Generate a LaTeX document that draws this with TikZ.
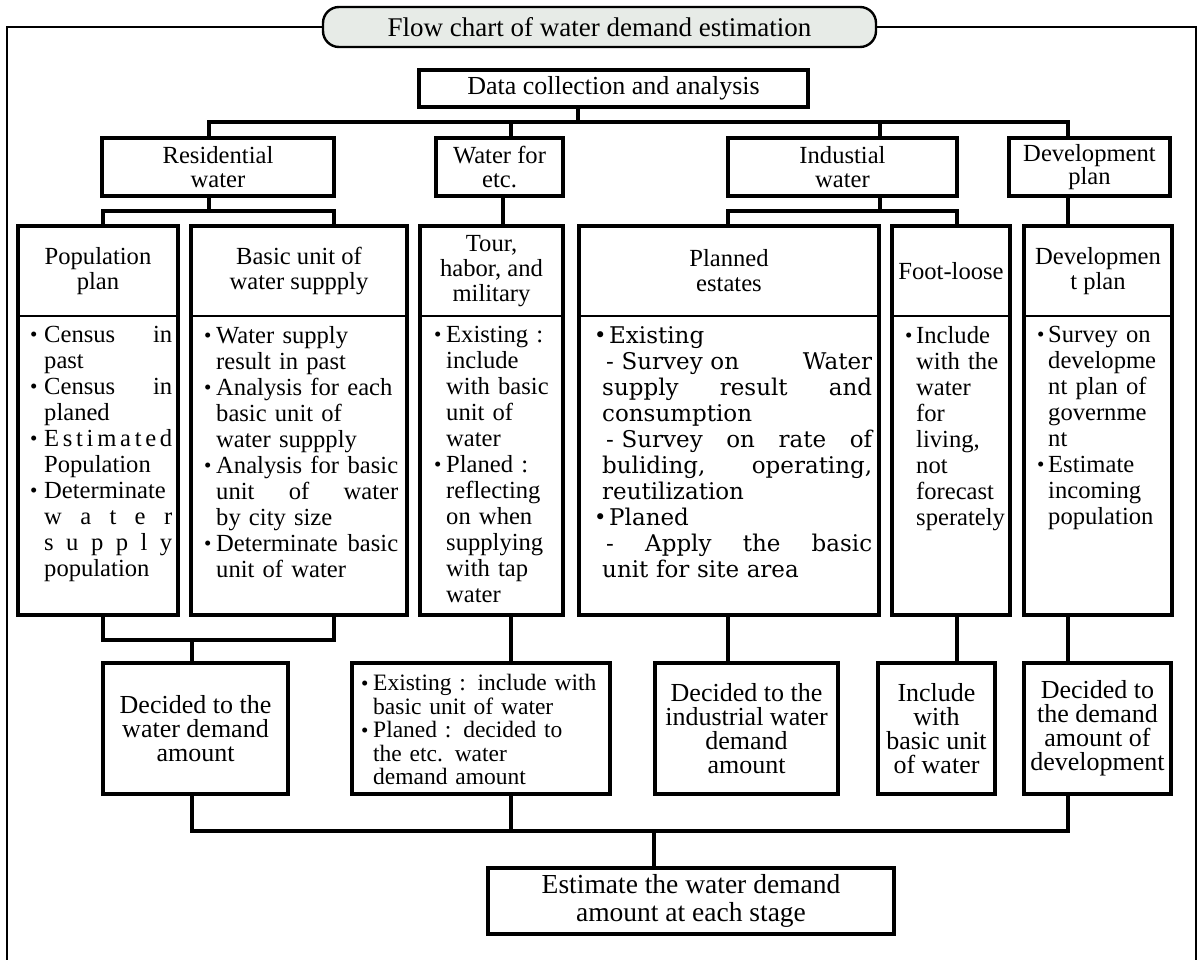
\documentclass[tikz,border=0pt]{standalone}
\usepackage{fontspec}
\setmainfont{Liberation Serif}
\newfontfamily\widefont{DejaVu Serif}
\usepackage{tikz}
\usetikzlibrary{positioning}
\definecolor{titlefill}{RGB}{231,235,231}
\hyphenpenalty=10000
\exhyphenpenalty=10000
\newlength{\bw}
\setlength{\bw}{14pt}
\newcommand{\bul}{\makebox[\bw][l]{\raisebox{0.5pt}{\fontsize{21}{21}\selectfont\textbullet}}}
\newcommand{\ind}{\hspace*{\bw}}
\begin{document}
\begin{tikzpicture}[x=1pt, y=-1pt,
    cbox/.style={draw, line width=3.2pt, inner sep=0pt, align=center, font=\fontsize{26}{24}\selectfont},
    catbox/.style={cbox, minimum height=58pt, font=\fontsize{24.6}{23.5}\selectfont},
    detbox/.style={draw, line width=3.2pt, inner sep=0pt, minimum height=389pt},
    hdtext/.style={align=center, inner sep=0pt, font=\fontsize{24.6}{25}\selectfont},
    bdtext/.style={anchor=north west, align=left, inner sep=0pt, font=\fontsize{24.6}{26}\selectfont},
    endbox/.style={cbox, minimum height=131pt},
    link/.style={line width=3.2pt},
    outline/.style={line width=2.4pt},
    headline/.style={line width=1.4pt}]
    \useasboundingbox (0,0) rectangle (1203,960);

    \node [cbox, line width=2.4pt, fill=titlefill, rounded corners=16pt, minimum width=553pt, minimum height=40pt, font=\fontsize{27}{27}\selectfont] (title) at (599.5,27) {Flow chart of water demand estimation};
    \node [cbox, minimum width=389pt, minimum height=37pt, font=\fontsize{26}{26}\selectfont] (data) at (613.5,88.5) {Data collection and analysis};

    \node [catbox, minimum width=232pt] (res) at (218,167) {Residential\\water};
    \node [catbox, minimum width=127pt] (etc) at (499.5,167) {Water for\\etc.};
    \node [catbox, minimum width=229pt] (ind) at (842.5,167) {Industial\\water};
    \node [catbox, minimum width=161pt] (dev) at (1089.5,167) {Development\\plan};

    \node [detbox, minimum width=160pt] (pop) at (98,420.5) {};
    \node [detbox, minimum width=216pt] (unit) at (299,420.5) {};
    \node [detbox, minimum width=143pt] (tour) at (491.5,420.5) {};
    \node [detbox, minimum width=300pt] (estate) at (729,420.5) {};
    \node [detbox, minimum width=118pt] (loose) at (951,420.5) {};
    \node [detbox, minimum width=148pt] (devplan) at (1098,420.5) {};
    \coordinate (hl) at (0,316);
    \foreach \b in {pop,unit,tour,estate,loose,devplan}
      \draw [headline] (\b.west |- hl) -- (\b.east |- hl);

    \node [hdtext] (poph) at (98,271) {Population\\plan};
    \node [hdtext] (unith) at (299,271) {Basic unit of\\water suppply};
    \node [hdtext] (tourh) at (491.5,271) {Tour,\\habor, and\\military};
    \node [hdtext] (estateh) at (729,271) {Planned\\estates};
    \node [hdtext] (looseh) at (951,271) {Foot-loose};
    \node [hdtext] (devplanh) at (1098,271) {Developmen\\t plan};

    \node [bdtext, text width=142pt] (popt) at (30,326) {\bul Census\hfill in\\
      \ind past\\
      \bul Census\hfill in\\
      \ind planed\\
      \bul E\hfill s\hfill t\hfill i\hfill m\hfill a\hfill t\hfill e\hfill d\\
      \ind Population\\
      \bul Determinate\\
      \ind w\hfill a\hfill t\hfill e\hfill r\\
      \ind s\hfill u\hfill p\hfill p\hfill l\hfill y\\
      \ind population};
    \node [bdtext, text width=194pt] (unitt) at (204,326) {\setlength{\bw}{12pt}\bul Water supply\\
      \ind result in past\\
      \bul Analysis for each\\
      \ind basic unit of\\
      \ind water suppply\\
      \bul Analysis for\hfill basic\\
      \ind unit\hfill of\hfill water\\
      \ind by city size\\
      \bul Determinate\hfill basic\\
      \ind unit of water};
    \node [bdtext, text width=125pt] (tourt) at (434,326) {\setlength{\bw}{12pt}\bul Existing :\\
      \ind include\\
      \ind with basic\\
      \ind unit of\\
      \ind water\\
      \bul Planed :\\
      \ind reflecting\\
      \ind on when\\
      \ind supplying\\
      \ind with tap\\
      \ind water};
    \node [bdtext, text width=278pt, font=\widefont\fontsize{23}{26}\selectfont] (estatet) at (594,326) {\setlength{\bw}{15pt}\bul Existing\\
      \hspace*{12pt}- Survey on\hfill Water\\
      \hspace*{8pt}supply\hfill result\hfill and\\
      \hspace*{8pt}consumption\\
      \hspace*{12pt}- Survey\hfill on\hfill rate\hfill of\\
      \hspace*{8pt}buliding,\hfill operating,\\
      \hspace*{8pt}reutilization\\
      \bul Planed\\
      \hspace*{12pt}-\hfill Apply\hfill the\hfill basic\\
      \hspace*{8pt}unit for site area};
    \node [bdtext, text width=106pt] (loset) at (905,326) {\setlength{\bw}{11pt}\bul Include\\
      \ind with the\\
      \ind water\\
      \ind for\\
      \ind living,\\
      \ind not\\
      \ind forecast\\
      \ind sperately};
    \node [bdtext, text width=130pt] (devplant) at (1037,326) {\setlength{\bw}{11pt}\bul Survey on\\
      \ind developme\\
      \ind nt plan of\\
      \ind governme\\
      \ind nt\\
      \bul Estimate\\
      \ind incoming\\
      \ind population};

    \node [endbox, minimum width=185pt] (popdec) at (195.5,728.5) {Decided to the\\water demand\\amount};
    \node [endbox, minimum width=258pt] (etcdec) at (481,728.5) {};
    \node [bdtext, text width=246pt, font=\fontsize{23.5}{23.5}\selectfont] (etcdect) at (361,674) {\setlength{\bw}{12pt}\bul Existing : include with\\
      \ind basic unit of water\\
      \bul Planed : decided to\\
      \ind the etc. water\\
      \ind demand amount};
    \node [endbox, minimum width=183pt] (inddec) at (746.5,728.5) {Decided to the\\industrial water\\demand\\amount};
    \node [endbox, minimum width=117pt] (loosedec) at (936.5,728.5) {Include\\with\\basic unit\\of water};
    \node [endbox, minimum width=147pt] (devdec) at (1097.5,728.5) {Decided to\\the demand\\amount of\\development};
    \node [cbox, minimum width=406pt, minimum height=66pt, font=\fontsize{27.5}{28}\selectfont] (est) at (691,901) {Estimate the water demand\\amount at each stage};

    \coordinate (ftl) at (7,27);
    \coordinate (fbl) at (7,965);
    \coordinate (ftr) at (1196,27);
    \coordinate (fbr) at (1196,965);
    \draw [outline] (title.west) -- (ftl) -- (fbl);
    \draw [outline] (title.east) -- (ftr) -- (fbr);

    \coordinate (bus1) at (578,122);
    \coordinate (bus1a) at (209,122);
    \coordinate (bus1b) at (511,122);
    \coordinate (bus1c) at (880,122);
    \coordinate (bus1d) at (1068,122);
    \draw [link] (data.south -| bus1) -- (bus1);
    \draw [link] (res.north -| bus1a) -- (bus1a) -- (bus1d) -- (dev.north -| bus1d);
    \draw [link] (bus1b) -- (etc.north -| bus1b);
    \draw [link] (bus1c) -- (ind.north -| bus1c);

    \coordinate (bus2) at (209,211);
    \coordinate (bus2a) at (103,211);
    \coordinate (bus2b) at (334,211);
    \coordinate (bus3) at (880,211);
    \coordinate (bus3a) at (728,211);
    \coordinate (bus3b) at (957,211);
    \coordinate (leg1) at (503,211);
    \draw [link] (res.south -| bus2) -- (bus2);
    \draw [link] (pop.north -| bus2a) -- (bus2a) -- (bus2b) -- (unit.north -| bus2b);
    \draw [link] (etc.south -| leg1) -- (tour.north -| leg1);
    \draw [link] (ind.south -| bus3) -- (bus3);
    \draw [link] (estate.north -| bus3a) -- (bus3a) -- (bus3b) -- (loose.north -| bus3b);
    \draw [link] (dev.south -| bus1d) -- (devplan.north -| bus1d);

    \coordinate (bus4) at (192,640);
    \coordinate (bus4a) at (103,640);
    \coordinate (bus4b) at (334,640);
    \coordinate (leg2) at (511,640);
    \draw [link] (pop.south -| bus4a) -- (bus4a) -- (bus4b) -- (unit.south -| bus4b);
    \draw [link] (bus4) -- (popdec.north -| bus4);
    \draw [link] (tour.south -| leg2) -- (etcdec.north -| leg2);
    \draw [link] (estate.south -| bus3a) -- (inddec.north -| bus3a);
    \draw [link] (loose.south -| bus3b) -- (loosedec.north -| bus3b);
    \draw [link] (devplan.south -| bus1d) -- (devdec.north -| bus1d);

    \coordinate (bus5a) at (192,831);
    \coordinate (bus5b) at (511,831);
    \coordinate (bus5c) at (654,831);
    \coordinate (bus5d) at (1068,831);
    \draw [link] (popdec.south -| bus5a) -- (bus5a) -- (bus5d) -- (devdec.south -| bus5d);
    \draw [link] (etcdec.south -| bus5b) -- (bus5b);
    \draw [link] (bus5c) -- (est.north -| bus5c);
\end{tikzpicture}
\end{document}
